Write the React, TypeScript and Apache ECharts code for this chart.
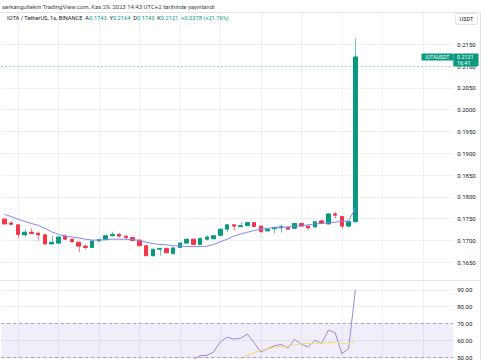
import React, { useEffect, useRef } from "react";
import * as echarts from "echarts";

// hourly bars (Kas 27 10:00 -> Kas 29 14:00) plus empty future slots
const times = [
  "27 10:00", "27 11:00", "27 12:00", "27 13:00", "27 14:00", "27 15:00", "27 16:00", "27 17:00", "27 18:00", "27 19:00", "27 20:00", "27 21:00", "27 22:00", "27 23:00",
  "28 00:00", "28 01:00", "28 02:00", "28 03:00", "28 04:00", "28 05:00", "28 06:00", "28 07:00", "28 08:00", "28 09:00", "28 10:00", "28 11:00",
  "28 12:00", "28 13:00", "28 14:00", "28 15:00", "28 16:00", "28 17:00", "28 18:00", "28 19:00", "28 20:00", "28 21:00", "28 22:00", "28 23:00",
  "29 00:00", "29 01:00", "29 02:00", "29 03:00", "29 04:00", "29 05:00", "29 06:00", "29 07:00", "29 08:00", "29 09:00", "29 10:00", "29 11:00",
  "29 12:00", "29 13:00", "29 14:00", "29 15:00", "29 16:00", "29 17:00", "29 18:00", "29 19:00", "29 20:00", "29 21:00", "29 22:00", "29 23:00",
  "30 00:00", "30 01:00", "30 02:00", "30 03:00", "30 04:00",
];

const openP = [
  0.1749, 0.174, 0.1736, 0.1713, 0.1719, 0.1717, 0.1713, 0.1692, 0.1694, 0.171, 0.1703, 0.1696, 0.1687, 0.1684,
  0.1699, 0.1702, 0.1711, 0.1714, 0.171, 0.1707, 0.1701, 0.1688, 0.1665, 0.168, 0.1682, 0.167, 0.1684,
  0.1694, 0.1703, 0.1691, 0.1703, 0.1704, 0.1712, 0.1726, 0.1736, 0.1732, 0.1734, 0.1741, 0.1733, 0.1722,
  0.1727, 0.1729, 0.173, 0.1728, 0.1739, 0.1733, 0.1731, 0.1745, 0.1738, 0.1761, 0.1755, 0.1733, 0.1743,
];
const closeP = [
  0.1738, 0.1737, 0.1714, 0.1719, 0.1716, 0.1713, 0.1692, 0.1696, 0.1708, 0.1703, 0.1697, 0.1687, 0.1684, 0.1699,
  0.1702, 0.1711, 0.1714, 0.171, 0.1707, 0.17, 0.1688, 0.1665, 0.168, 0.1682, 0.1672, 0.1683, 0.1694,
  0.1703, 0.1691, 0.1705, 0.1708, 0.1711, 0.1726, 0.1736, 0.1733, 0.1734, 0.1741, 0.1732, 0.172, 0.1726,
  0.173, 0.1732, 0.1726, 0.1739, 0.1733, 0.1729, 0.1743, 0.1739, 0.1761, 0.1758, 0.1733, 0.1743, 0.2121,
];
const lowP = [
  0.1737, 0.1736, 0.1705, 0.1709, 0.1715, 0.1699, 0.1691, 0.1691, 0.1693, 0.1702, 0.1696, 0.1673, 0.168, 0.1683,
  0.1697, 0.1701, 0.171, 0.1707, 0.1701, 0.1699, 0.1687, 0.1664, 0.1664, 0.1665, 0.1671, 0.1668, 0.1683,
  0.1693, 0.169, 0.169, 0.17, 0.1702, 0.1711, 0.172, 0.1724, 0.1732, 0.1733, 0.1731, 0.1718, 0.1721,
  0.1717, 0.1718, 0.1725, 0.1727, 0.1732, 0.1724, 0.173, 0.1738, 0.1737, 0.1751, 0.1726, 0.173, 0.1743,
];
const highP = [
  0.1751, 0.1745, 0.1737, 0.1726, 0.1728, 0.1718, 0.1714, 0.1711, 0.1709, 0.1714, 0.1704, 0.1697, 0.1691, 0.17,
  0.1704, 0.1712, 0.172, 0.1717, 0.1711, 0.1708, 0.1702, 0.1689, 0.1681, 0.1683, 0.1683, 0.1685, 0.1696,
  0.1705, 0.1704, 0.1706, 0.1712, 0.1713, 0.1727, 0.1737, 0.1737, 0.1743, 0.1742, 0.1742, 0.1734, 0.1727,
  0.1731, 0.1737, 0.1731, 0.174, 0.174, 0.1734, 0.1744, 0.1748, 0.1762, 0.1766, 0.1756, 0.1744, 0.2164,
];
const maValues = [
  0.176, 0.1755, 0.1749, 0.1744, 0.1739, 0.1735, 0.1728, 0.172, 0.1714, 0.171, 0.1708, 0.1706, 0.1703, 0.1701,
  0.1701, 0.1702, 0.1703, 0.1703, 0.1703, 0.1702, 0.17, 0.1696, 0.1693, 0.1691, 0.169, 0.1688, 0.1687,
  0.1686, 0.1686, 0.1686, 0.1687, 0.1691, 0.1697, 0.1703, 0.171, 0.1715, 0.1719, 0.1723, 0.1726, 0.1728,
  0.173, 0.173, 0.1731, 0.1733, 0.1734, 0.1736, 0.1738, 0.1739, 0.1741, 0.1742, 0.1744, 0.1745, 0.1775,
];
const rsiValues = [
  null, null, null, null, null, null, null, null, null, null, null, null, null, null,
  null, null, null, null, null, null, null, null, null, null, null, null, null,
  46, 48.5, 50.8, 51, 53, 59, 61.8, 60.6, 61.2, 63.6, 58.5, 53, 55,
  56.6, 57.4, 55.4, 60.5, 57.6, 56, 60, 58, 66, 64.5, 52, 55, 90,
];
const rsiMaValues = [
  null, null, null, null, null, null, null, null, null, null, null, null, null, null,
  null, null, null, null, null, null, null, null, null, null, null, null, null,
  null, null, null, null, null, null, null, 47, 49.3, 51.2, 52.5, 53.9, 54.8,
  55.6, 56.2, 56.4, 57.4, 57.8, 58, 58.2, 58.4, 58.5, 58.9, 58, 57.8, 59.9,
];
const priceTicks = [0.165, 0.17, 0.175, 0.18, 0.185, 0.19, 0.195, 0.2, 0.205, 0.21, 0.215];
const rsiTicks = [50, 60, 70, 80, 90];

const PRICE_MIN = 0.16094;
const PRICE_MAX = 0.22218;
const RSI_MIN = 49.24;
const RSI_MAX = 95.24;

const FONT = "Roboto, 'Liberation Sans', sans-serif";
const GREEN = "#089981";
const RED = "#f23645";
const GREEN_WICK = "#6cc4b4";
const RED_WICK = "#f6848e";
const GRID = "#edf0f5";
const BORDER = "#e0e3eb";

export default function App() {
  const ref = useRef<HTMLDivElement>(null);
  useEffect(() => {
    const chart = echarts.init(ref.current!, null, { renderer: "svg" });
    const gridIdx = times
      .map((t, i) => (["00", "06", "12", "18"].includes(t.slice(-5, -3)) ? i : -1))
      .filter((i) => i >= 0);
    const plotLeft = 1;
    const plotWidth = times.length * 6.75;

    const isUp = (i: number) => closeP[i] >= openP[i];
    const upBody = openP.map((o, i) =>
      isUp(i) ? [o, closeP[i], Math.min(o, closeP[i]), Math.max(o, closeP[i])] : "-"
    );
    const downBody = openP.map((o, i) =>
      !isUp(i) ? [o, closeP[i], Math.min(o, closeP[i]), Math.max(o, closeP[i])] : "-"
    );
    const wickData = openP.map((o, i) => [i, lowP[i], highP[i], isUp(i) ? 1 : 0]);

    const bodySeries = (data: any[], col: string) => ({
      type: "candlestick",
      xAxisIndex: 0,
      yAxisIndex: 0,
      data,
      color: col,
      barWidth: 4,
      z: 3,
      emphasis: { disabled: true },
      itemStyle: {
        color: col,
        color0: col,
        borderColor: col,
        borderColor0: col,
        borderColorDoji: col,
        borderWidth: 1,
      },
    });

    const catAxis = (gridIndex: number) => ({
      type: "category",
      gridIndex,
      data: times,
      boundaryGap: true,
      axisLine: { show: false },
      axisTick: { show: false },
      axisLabel: { show: false },
      splitLine: { show: false },
      axisPointer: { show: false },
    });

    const vGrid = (idx: number) => ({
      type: "custom",
      xAxisIndex: idx,
      yAxisIndex: idx,
      z: 0,
      silent: true,
      data: gridIdx.map((i) => [i]),
      encode: { x: 0 },
      renderItem: (params: any, api: any) => {
        const cs = params.coordSys;
        const x = Math.round(api.coord([api.value(0), idx === 0 ? PRICE_MIN : RSI_MIN])[0]) + 0.5;
        return {
          type: "line",
          shape: { x1: x, y1: cs.y, x2: x, y2: cs.y + cs.height },
          style: { stroke: GRID, lineWidth: 1 },
        };
      },
    });

    chart.setOption({
      animation: false,
      backgroundColor: "#ffffff",
      textStyle: { fontFamily: FONT },
      grid: [
        { left: plotLeft, width: plotWidth, top: 13, height: 267 },
        { left: plotLeft, width: plotWidth, top: 281, height: 79 },
      ],
      xAxis: [catAxis(0), catAxis(1)],
      yAxis: [
        {
          type: "value",
          gridIndex: 0,
          position: "right",
          min: PRICE_MIN,
          max: PRICE_MAX,
          axisLine: { show: false },
          axisTick: { show: false, customValues: priceTicks },
          axisLabel: {
            customValues: priceTicks,
            formatter: (v: number) => v.toFixed(4),
            color: "#131722",
            fontSize: 6,
            margin: 4,
            fontFamily: FONT,
          },
          splitLine: { show: true, lineStyle: { color: GRID, width: 1 } },
        },
        {
          type: "value",
          gridIndex: 1,
          position: "right",
          min: RSI_MIN,
          max: RSI_MAX,
          axisLine: { show: false },
          axisTick: { show: false, customValues: rsiTicks },
          axisLabel: {
            customValues: rsiTicks,
            formatter: (v: number) => v.toFixed(2),
            color: "#131722",
            fontSize: 6,
            margin: 4,
            fontFamily: FONT,
          },
          splitLine: { show: true, lineStyle: { color: GRID, width: 1 } },
        },
      ],
      series: [
        vGrid(0),
        vGrid(1),
        {
          type: "custom",
          xAxisIndex: 0,
          yAxisIndex: 0,
          z: 2,
          silent: true,
          data: wickData,
          encode: { x: 0, y: [1, 2] },
          renderItem: (params: any, api: any) => {
            const lo = api.coord([api.value(0), api.value(1)]);
            const hi = api.coord([api.value(0), api.value(2)]);
            const x = Math.round(lo[0]) + 0.5;
            return {
              type: "line",
              shape: { x1: x, y1: lo[1], x2: x, y2: hi[1] },
              style: { stroke: api.value(3) ? GREEN_WICK : RED_WICK, lineWidth: 1 },
            };
          },
          markLine: {
            silent: true,
            symbol: ["none", "none"],
            label: { show: false },
            lineStyle: { color: "rgba(8,153,129,0.3)", type: [2, 2], width: 1 },
            data: [{ yAxis: closeP[closeP.length - 1] }],
          },
        },
        bodySeries(upBody, GREEN),
        bodySeries(downBody, RED),
        {
          type: "line",
          xAxisIndex: 0,
          yAxisIndex: 0,
          data: maValues,
          symbol: "none",
          z: 4,
          color: "#8585f5",
          lineStyle: { color: "#8585f5", width: 1 },
        },
        {
          type: "line",
          xAxisIndex: 1,
          yAxisIndex: 1,
          data: rsiValues,
          symbol: "none",
          z: 3,
          color: "#a086d8",
          lineStyle: { color: "#a086d8", width: 1 },
          markArea: {
            silent: true,
            itemStyle: { color: "rgba(126,87,194,0.1)" },
            data: [[{ yAxis: 70 }, { yAxis: RSI_MIN }]],
          },
          markLine: {
            silent: true,
            symbol: ["none", "none"],
            label: { show: false },
            lineStyle: { color: "#aa9fc8", type: [3, 3], width: 1 },
            data: [{ yAxis: 70 }, { yAxis: 50 }],
          },
        },
        {
          type: "line",
          xAxisIndex: 1,
          yAxisIndex: 1,
          data: rsiMaValues,
          symbol: "none",
          z: 3,
          color: "#f2dc6e",
          lineStyle: { color: "#f2dc6e", width: 1 },
        },
      ],
    });

    const last = closeP.length - 1;
    const py = chart.convertToPixel({ yAxisIndex: 0 }, closeP[last]) as number;
    const axisX = plotLeft + plotWidth;

    chart.setOption({
      graphic: [
        {
          type: "text",
          x: 2,
          y: 6,
          z: 100,
          style: {
            text: "serkangultekin TradingView.com, Kas 29, 2023 14:43 UTC+2 tarihinde yayınlandı",
            font: `6px ${FONT}`,
            fill: "#434651",
            verticalAlign: "middle",
          },
        },
        {
          type: "text",
          x: 7,
          y: 18.3,
          z: 100,
          style: {
            text:
              `{d|IOTA / TetherUS, 1s, BINANCE  A}{g|${openP[last].toFixed(4)}}{d|  Y}{g|${highP[last].toFixed(4)}}` +
              `{d|  D}{g|${lowP[last].toFixed(4)}}{d|  K}{g|${closeP[last].toFixed(4)}}{g|  +0.0378 (+21.76%)}`,
            verticalAlign: "middle",
            rich: {
              d: { font: `5.7px ${FONT}`, fill: "#131722" },
              g: { font: `5.7px ${FONT}`, fill: GREEN },
            },
          },
        },
        {
          type: "line",
          z: 50,
          shape: { x1: 0, y1: 12.5, x2: 480.5, y2: 12.5 },
          style: { stroke: BORDER, lineWidth: 1 },
        },
        {
          type: "line",
          z: 50,
          shape: { x1: 480.5, y1: 12.5, x2: 480.5, y2: 360 },
          style: { stroke: BORDER, lineWidth: 1 },
        },
        {
          type: "line",
          z: 50,
          shape: { x1: 0, y1: 280.5, x2: 480.5, y2: 280.5 },
          style: { stroke: BORDER, lineWidth: 1 },
        },
        {
          type: "rect",
          z: 100,
          shape: { x: 455.5, y: 13.5, width: 22, height: 11, r: 2 },
          style: { fill: "#ffffff", stroke: BORDER, lineWidth: 1 },
        },
        {
          type: "text",
          z: 101,
          x: 466.5,
          y: 19.2,
          style: { text: "USDT", font: `5.6px ${FONT}`, fill: "#131722", align: "center", verticalAlign: "middle" },
        },
        {
          type: "rect",
          z: 100,
          shape: { x: 421.5, y: py - 3.4, width: axisX - 421.5, height: 7, r: 1 },
          style: { fill: GREEN },
        },
        {
          type: "text",
          z: 101,
          x: (421.5 + axisX) / 2,
          y: py + 0.1,
          style: { text: "IOTAUSDT", font: `5.2px ${FONT}`, fill: "#ffffff", align: "center", verticalAlign: "middle" },
        },
        {
          type: "rect",
          z: 100,
          shape: { x: axisX, y: py - 3.4, width: 478.5 - axisX, height: 13, r: 1 },
          style: { fill: GREEN },
        },
        {
          type: "text",
          z: 101,
          x: 457,
          y: py,
          style: { text: closeP[last].toFixed(4), font: `5.4px ${FONT}`, fill: "#ffffff", verticalAlign: "middle" },
        },
        {
          type: "text",
          z: 101,
          x: 457,
          y: py + 6,
          style: { text: "16:41", font: `5.4px ${FONT}`, fill: "#ffffff", verticalAlign: "middle" },
        },
      ],
    });

    return () => chart.dispose();
  }, []);
  return (
    <div
      ref={ref}
      style={{ position: "absolute", left: 0, top: 0, width: 485, height: 360, background: "#ffffff" }}
    />
  );
}
